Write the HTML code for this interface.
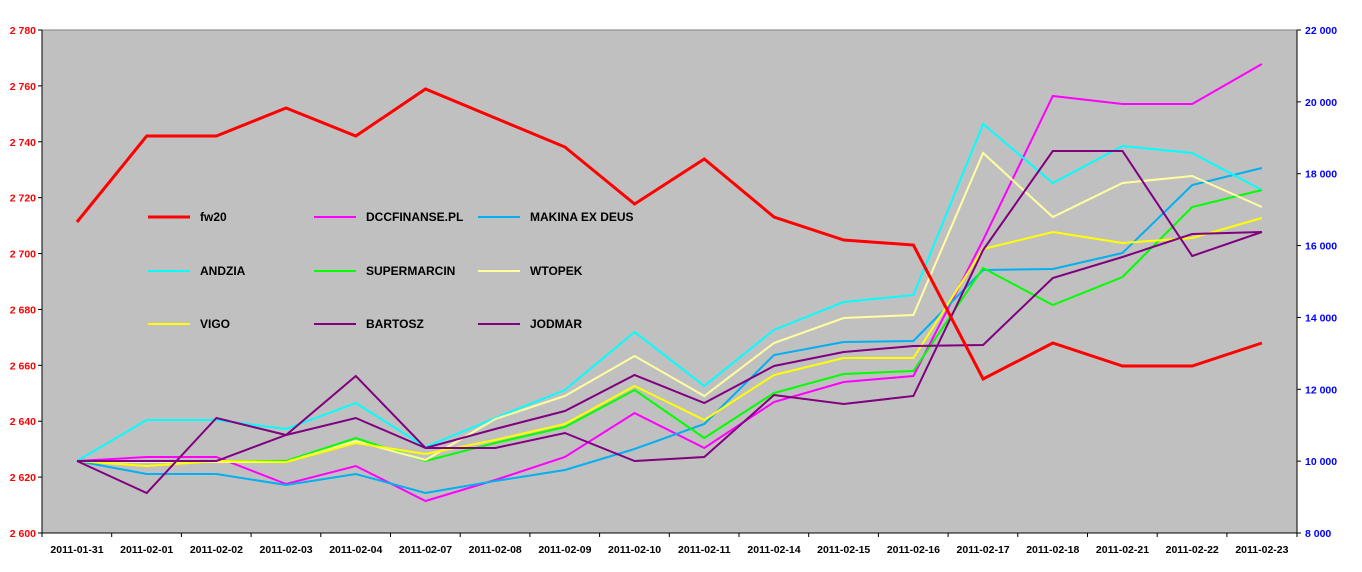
<!DOCTYPE html>
<html><head><meta charset="utf-8"><style>body{margin:0;background:#fff}svg{display:block}</style></head><body>
<svg width="1362" height="572" xmlns="http://www.w3.org/2000/svg" font-family="Liberation Sans, Arial, sans-serif" font-weight="bold" font-size="10.5">
<rect x="42" y="30" width="1255" height="503" fill="#c0c0c0" stroke="#808080"/>
<line x1="42" y1="30" x2="42" y2="533" stroke="#000"/>
<line x1="1297" y1="30" x2="1297" y2="533" stroke="#000"/>
<line x1="42" y1="533" x2="1297" y2="533" stroke="#000"/>
<g id="lt" fill="#f00" text-anchor="end"></g>
<g id="rt" fill="#00f"></g>
<g id="xt" fill="#000" text-anchor="middle"></g>
<g id="ticks" stroke="#000"></g>
<g id="series" fill="none" stroke-linejoin="miter"></g>
<g id="legend"></g>
</svg>
<script>
const NS="http://www.w3.org/2000/svg";
function el(p,t,a,txt){const e=document.createElementNS(NS,t);for(const k in a)e.setAttribute(k,a[k]);if(txt!=null)e.textContent=txt;document.getElementById(p).appendChild(e);}
for(let i=0;i<10;i++){const y=533-i*503/9;el('lt','text',{x:36,y:y+4},'2 '+(600+i*20));el('ticks','line',{x1:38,y1:y,x2:42,y2:y});}
for(let i=0;i<8;i++){const y=533-i*503/7;const v=8+i*2;el('rt','text',{x:1305,y:y+4},(v<10?'':Math.floor(v/10)+'')+(v<10?v:v%10)+' 000');el('ticks','line',{x1:1297,y1:y,x2:1301,y2:y});}
const d=["2011-01-31","2011-02-01","2011-02-02","2011-02-03","2011-02-04","2011-02-07","2011-02-08","2011-02-09","2011-02-10","2011-02-11","2011-02-14","2011-02-15","2011-02-16","2011-02-17","2011-02-18","2011-02-21","2011-02-22","2011-02-23"];
d.forEach((s,i)=>{el('xt','text',{x:77+69.7*i,y:553},s);el('ticks','line',{x1:42+69.7*i,y1:533,x2:42+69.7*i,y2:537});});
el('ticks','line',{x1:1297,y1:533,x2:1297,y2:537});
const S=[
["#ff00ff",2,[461,457,457,484,466,501,480,457,413,448,402,382,376,240,96,104,104,64]],
["#00b0f0",2,[461,474,474,485,474,493,481,470,449,424,355,342,341,270,269,253,185,168]],
["#00ffff",2,[461,420,420,429,403,447,418,390,332,386,330,302,295,124,183,146,153,190]],
["#00ff00",2,[461,461,461,461,438,461,443,427,390,438,393,374,371,268,305,277,207,190]],
["#ffffa0",2,[461,462,462,462,441,460,419,396,356,396,343,318,315,153,217,183,176,207]],
["#ffff00",2,[461,466,461,462,443,454,440,424,386,420,375,358,358,249,232,243,238,218]],
["#800080",2,[461,493,418,435,376,448,448,433,461,457,395,404,396,250,151,151,256,232]],
["#800080",2,[461,461,461,435,418,448,429,411,375,403,366,352,346,345,278,257,234,232]],
["#ff0000",3,[222,136,136,108,136,89,118,147,204,159,217,240,245,379,343,366,366,343]]];
S.forEach(([c,w,ys])=>el('series','polyline',{stroke:c,'stroke-width':w,points:ys.map((y,i)=>(77+69.7*i)+','+y).join(' ')}));
const L=[["fw20","#ff0000",3],["DCCFINANSE.PL","#ff00ff",2],["MAKINA EX DEUS","#00b0f0",2],["ANDZIA","#00ffff",2],["SUPERMARCIN","#00ff00",2],["WTOPEK","#ffffa0",2],["VIGO","#ffff00",2],["BARTOSZ","#800080",2],["JODMAR","#800080",2]];
const cx=[148,314,478],ry=[217,271,324];
L.forEach(([n,c,w],i)=>{const x=cx[i%3],y=ry[Math.floor(i/3)];el('legend','line',{x1:x,y1:y,x2:x+42,y2:y,stroke:c,'stroke-width':w});el('legend','text',{x:x+52,y:y+4,'font-size':12,fill:'#000'},n);});
</script>
</body></html>
